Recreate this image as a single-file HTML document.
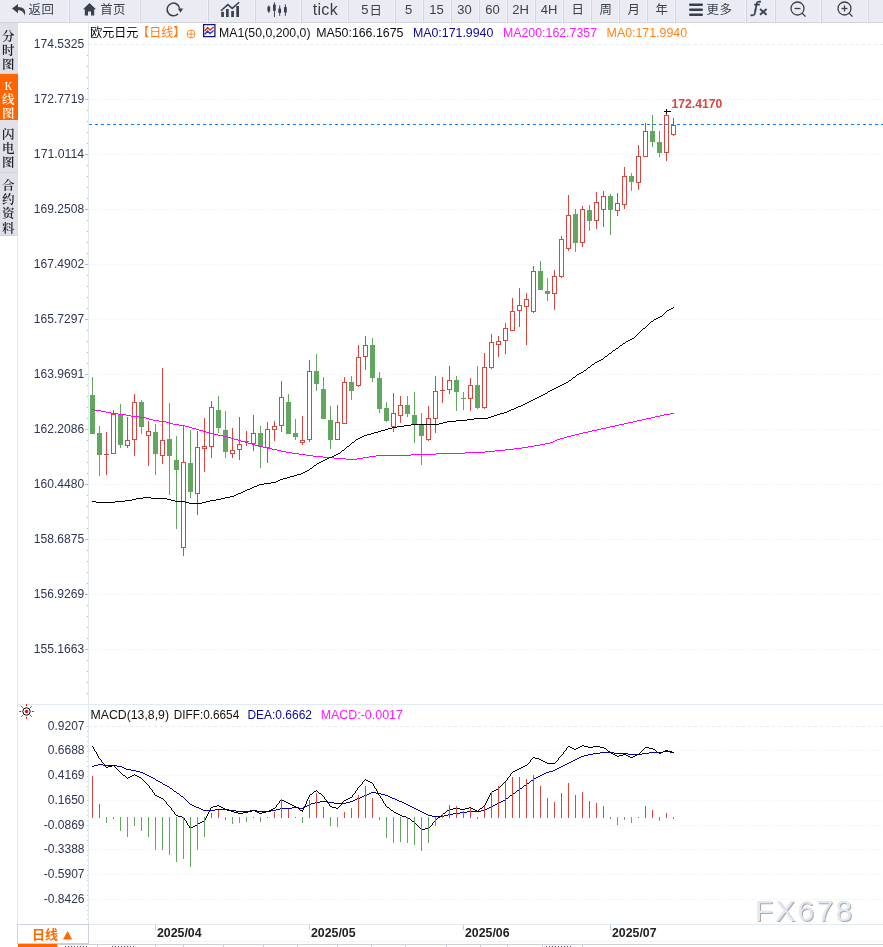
<!DOCTYPE html>
<html lang="zh"><head><meta charset="utf-8"><title>欧元日元 日线</title><style>
html,body{margin:0;padding:0;background:#fff}
body{width:883px;height:947px;position:relative;overflow:hidden;font-family:"Liberation Sans","Noto Sans CJK SC",sans-serif}
#tb{position:absolute;left:0;top:0;width:883px;height:22px;background:#eaebf3;border-bottom:1px solid #d0d2dd;color:#39414d}
#tb .sep{position:absolute;top:0;width:1px;height:23px;background:#f3f3f9;box-shadow:1px 0 0 #d3d4df}
#tb .bt{position:absolute;top:0;height:19px;line-height:19.5px;text-align:center;white-space:nowrap;box-sizing:border-box;padding-left:1.2px}
#tb .lb{position:absolute;top:1px;height:19px;line-height:19px;white-space:nowrap}
#tb .ic{position:absolute}
#side{position:absolute;left:0;top:0;width:18px}
#side .tab{position:absolute;left:0;width:18px;background:#dfe0ea;color:#1c1c1c;font:600 12.5px/14.2px "Noto Serif CJK SC","Liberation Serif",serif;text-align:center;box-sizing:border-box;padding:6px 1.5px 0 0;border-bottom:1px solid #d0d2dc}
#side .tab.on{background:#ff6600;color:#fff;padding-top:4px;border-bottom:0}
#dl{position:absolute;left:17px;top:924px;width:70px;height:18px;border:1px solid #c9d2de;box-sizing:content-box;background:#fff;color:#ff6a00;font-weight:bold;font-size:13px;line-height:19px;text-indent:14px;white-space:nowrap}
#dl b{font-size:10px;position:relative;top:-1px;left:1px}
#b1{position:absolute;left:18px;top:944px;width:39px;height:3px;background:#ff6600}
#b0{position:absolute;left:18px;top:944px;width:865px;height:1px;background:#cbcfd8}
.bs{position:absolute;top:945px;width:1px;height:2px;background:#c9cdd6}
.bt2{position:absolute;top:946px;height:1px;background:repeating-linear-gradient(90deg,#555 0 1px,#fff 1px 3px)}
</style></head><body>
<svg width="883" height="947" viewBox="0 0 883 947" style="position:absolute;left:0;top:0" font-family="'Liberation Sans', 'Noto Sans CJK SC', sans-serif">
<g shape-rendering="crispEdges" stroke="#e4ecf2" stroke-width="1" fill="none">
<line x1="88" x2="883" y1="44.5" y2="44.5" stroke-dasharray="3 3"/>
<line x1="89" x2="883" y1="99.5" y2="99.5" stroke-dasharray="1 2"/>
<line x1="89" x2="883" y1="154.5" y2="154.5" stroke-dasharray="1 2"/>
<line x1="89" x2="883" y1="209.5" y2="209.5" stroke-dasharray="1 2"/>
<line x1="89" x2="883" y1="264.5" y2="264.5" stroke-dasharray="1 2"/>
<line x1="89" x2="883" y1="319.5" y2="319.5" stroke-dasharray="1 2"/>
<line x1="89" x2="883" y1="374.5" y2="374.5" stroke-dasharray="1 2"/>
<line x1="89" x2="883" y1="429.5" y2="429.5" stroke-dasharray="1 2"/>
<line x1="89" x2="883" y1="484.5" y2="484.5" stroke-dasharray="1 2"/>
<line x1="89" x2="883" y1="539.5" y2="539.5" stroke-dasharray="1 2"/>
<line x1="89" x2="883" y1="594.5" y2="594.5" stroke-dasharray="1 2"/>
<line x1="89" x2="883" y1="649.5" y2="649.5" stroke-dasharray="1 2"/>
<line x1="88" x2="883" y1="726.5" y2="726.5" stroke-dasharray="3 3"/>
<line x1="89" x2="883" y1="750.5" y2="750.5" stroke-dasharray="1 2"/>
<line x1="89" x2="883" y1="775.5" y2="775.5" stroke-dasharray="1 2"/>
<line x1="89" x2="883" y1="800.5" y2="800.5" stroke-dasharray="1 2"/>
<line x1="89" x2="883" y1="825.5" y2="825.5" stroke-dasharray="1 2"/>
<line x1="89" x2="883" y1="849.5" y2="849.5" stroke-dasharray="1 2"/>
<line x1="89" x2="883" y1="874.5" y2="874.5" stroke-dasharray="1 2"/>
<line x1="89" x2="883" y1="899.5" y2="899.5" stroke-dasharray="1 2"/>
</g>
<g shape-rendering="crispEdges" stroke="#e1e9f1" stroke-width="1" fill="none">
<line x1="88.5" x2="88.5" y1="22" y2="925"/>
<line x1="17.5" x2="17.5" y1="237" y2="944"/>
<line x1="18" x2="883" y1="704.5" y2="704.5"/>
<line x1="18" x2="883" y1="924.5" y2="924.5"/>
<line x1="88" x2="883" y1="941.5" y2="941.5" stroke="#f1f4f8"/>
<line x1="87" x2="88" y1="55.5" y2="55.5" stroke="#aab2c0"/>
<line x1="87" x2="88" y1="66.5" y2="66.5" stroke="#aab2c0"/>
<line x1="87" x2="88" y1="77.5" y2="77.5" stroke="#aab2c0"/>
<line x1="87" x2="88" y1="88.5" y2="88.5" stroke="#aab2c0"/>
<line x1="85" x2="88" y1="99.5" y2="99.5" stroke="#b4bcc9"/>
<line x1="87" x2="88" y1="110.5" y2="110.5" stroke="#aab2c0"/>
<line x1="87" x2="88" y1="121.5" y2="121.5" stroke="#aab2c0"/>
<line x1="87" x2="88" y1="132.5" y2="132.5" stroke="#aab2c0"/>
<line x1="87" x2="88" y1="143.5" y2="143.5" stroke="#aab2c0"/>
<line x1="85" x2="88" y1="154.5" y2="154.5" stroke="#b4bcc9"/>
<line x1="87" x2="88" y1="165.5" y2="165.5" stroke="#aab2c0"/>
<line x1="87" x2="88" y1="176.5" y2="176.5" stroke="#aab2c0"/>
<line x1="87" x2="88" y1="187.5" y2="187.5" stroke="#aab2c0"/>
<line x1="87" x2="88" y1="198.5" y2="198.5" stroke="#aab2c0"/>
<line x1="85" x2="88" y1="209.5" y2="209.5" stroke="#b4bcc9"/>
<line x1="87" x2="88" y1="220.5" y2="220.5" stroke="#aab2c0"/>
<line x1="87" x2="88" y1="231.5" y2="231.5" stroke="#aab2c0"/>
<line x1="87" x2="88" y1="242.5" y2="242.5" stroke="#aab2c0"/>
<line x1="87" x2="88" y1="253.5" y2="253.5" stroke="#aab2c0"/>
<line x1="85" x2="88" y1="264.5" y2="264.5" stroke="#b4bcc9"/>
<line x1="87" x2="88" y1="275.5" y2="275.5" stroke="#aab2c0"/>
<line x1="87" x2="88" y1="286.5" y2="286.5" stroke="#aab2c0"/>
<line x1="87" x2="88" y1="297.5" y2="297.5" stroke="#aab2c0"/>
<line x1="87" x2="88" y1="308.5" y2="308.5" stroke="#aab2c0"/>
<line x1="85" x2="88" y1="319.5" y2="319.5" stroke="#b4bcc9"/>
<line x1="87" x2="88" y1="330.5" y2="330.5" stroke="#aab2c0"/>
<line x1="87" x2="88" y1="341.5" y2="341.5" stroke="#aab2c0"/>
<line x1="87" x2="88" y1="352.5" y2="352.5" stroke="#aab2c0"/>
<line x1="87" x2="88" y1="363.5" y2="363.5" stroke="#aab2c0"/>
<line x1="85" x2="88" y1="374.5" y2="374.5" stroke="#b4bcc9"/>
<line x1="87" x2="88" y1="385.5" y2="385.5" stroke="#aab2c0"/>
<line x1="87" x2="88" y1="396.5" y2="396.5" stroke="#aab2c0"/>
<line x1="87" x2="88" y1="407.5" y2="407.5" stroke="#aab2c0"/>
<line x1="87" x2="88" y1="418.5" y2="418.5" stroke="#aab2c0"/>
<line x1="85" x2="88" y1="429.5" y2="429.5" stroke="#b4bcc9"/>
<line x1="87" x2="88" y1="440.5" y2="440.5" stroke="#aab2c0"/>
<line x1="87" x2="88" y1="451.5" y2="451.5" stroke="#aab2c0"/>
<line x1="87" x2="88" y1="462.5" y2="462.5" stroke="#aab2c0"/>
<line x1="87" x2="88" y1="473.5" y2="473.5" stroke="#aab2c0"/>
<line x1="85" x2="88" y1="484.5" y2="484.5" stroke="#b4bcc9"/>
<line x1="87" x2="88" y1="495.5" y2="495.5" stroke="#aab2c0"/>
<line x1="87" x2="88" y1="506.5" y2="506.5" stroke="#aab2c0"/>
<line x1="87" x2="88" y1="517.5" y2="517.5" stroke="#aab2c0"/>
<line x1="87" x2="88" y1="528.5" y2="528.5" stroke="#aab2c0"/>
<line x1="85" x2="88" y1="539.5" y2="539.5" stroke="#b4bcc9"/>
<line x1="87" x2="88" y1="550.5" y2="550.5" stroke="#aab2c0"/>
<line x1="87" x2="88" y1="561.5" y2="561.5" stroke="#aab2c0"/>
<line x1="87" x2="88" y1="572.5" y2="572.5" stroke="#aab2c0"/>
<line x1="87" x2="88" y1="583.5" y2="583.5" stroke="#aab2c0"/>
<line x1="85" x2="88" y1="594.5" y2="594.5" stroke="#b4bcc9"/>
<line x1="87" x2="88" y1="605.5" y2="605.5" stroke="#aab2c0"/>
<line x1="87" x2="88" y1="616.5" y2="616.5" stroke="#aab2c0"/>
<line x1="87" x2="88" y1="627.5" y2="627.5" stroke="#aab2c0"/>
<line x1="87" x2="88" y1="638.5" y2="638.5" stroke="#aab2c0"/>
<line x1="85" x2="88" y1="649.5" y2="649.5" stroke="#b4bcc9"/>
<line x1="87" x2="88" y1="660.5" y2="660.5" stroke="#aab2c0"/>
<line x1="87" x2="88" y1="671.5" y2="671.5" stroke="#aab2c0"/>
<line x1="87" x2="88" y1="682.5" y2="682.5" stroke="#aab2c0"/>
<line x1="87" x2="88" y1="693.5" y2="693.5" stroke="#aab2c0"/>
<line x1="87" x2="88" y1="726.5" y2="726.5" stroke="#c5cfdb"/>
<line x1="87" x2="88" y1="731.5" y2="731.5" stroke="#c5cfdb"/>
<line x1="87" x2="88" y1="736.5" y2="736.5" stroke="#c5cfdb"/>
<line x1="87" x2="88" y1="741.5" y2="741.5" stroke="#c5cfdb"/>
<line x1="87" x2="88" y1="746.5" y2="746.5" stroke="#c5cfdb"/>
<line x1="87" x2="88" y1="751.5" y2="751.5" stroke="#c5cfdb"/>
<line x1="87" x2="88" y1="756.5" y2="756.5" stroke="#c5cfdb"/>
<line x1="87" x2="88" y1="761.5" y2="761.5" stroke="#c5cfdb"/>
<line x1="87" x2="88" y1="766.5" y2="766.5" stroke="#c5cfdb"/>
<line x1="87" x2="88" y1="771.5" y2="771.5" stroke="#c5cfdb"/>
<line x1="87" x2="88" y1="776.5" y2="776.5" stroke="#c5cfdb"/>
<line x1="87" x2="88" y1="781.5" y2="781.5" stroke="#c5cfdb"/>
<line x1="87" x2="88" y1="786.5" y2="786.5" stroke="#c5cfdb"/>
<line x1="87" x2="88" y1="790.5" y2="790.5" stroke="#c5cfdb"/>
<line x1="87" x2="88" y1="795.5" y2="795.5" stroke="#c5cfdb"/>
<line x1="87" x2="88" y1="800.5" y2="800.5" stroke="#c5cfdb"/>
<line x1="87" x2="88" y1="805.5" y2="805.5" stroke="#c5cfdb"/>
<line x1="87" x2="88" y1="810.5" y2="810.5" stroke="#c5cfdb"/>
<line x1="87" x2="88" y1="815.5" y2="815.5" stroke="#c5cfdb"/>
<line x1="87" x2="88" y1="820.5" y2="820.5" stroke="#c5cfdb"/>
<line x1="87" x2="88" y1="825.5" y2="825.5" stroke="#c5cfdb"/>
<line x1="87" x2="88" y1="830.5" y2="830.5" stroke="#c5cfdb"/>
<line x1="87" x2="88" y1="835.5" y2="835.5" stroke="#c5cfdb"/>
<line x1="87" x2="88" y1="840.5" y2="840.5" stroke="#c5cfdb"/>
<line x1="87" x2="88" y1="845.5" y2="845.5" stroke="#c5cfdb"/>
<line x1="87" x2="88" y1="850.5" y2="850.5" stroke="#c5cfdb"/>
<line x1="87" x2="88" y1="855.5" y2="855.5" stroke="#c5cfdb"/>
<line x1="87" x2="88" y1="860.5" y2="860.5" stroke="#c5cfdb"/>
<line x1="87" x2="88" y1="865.5" y2="865.5" stroke="#c5cfdb"/>
<line x1="87" x2="88" y1="870.5" y2="870.5" stroke="#c5cfdb"/>
<line x1="87" x2="88" y1="875.5" y2="875.5" stroke="#c5cfdb"/>
<line x1="87" x2="88" y1="880.5" y2="880.5" stroke="#c5cfdb"/>
<line x1="87" x2="88" y1="885.5" y2="885.5" stroke="#c5cfdb"/>
<line x1="87" x2="88" y1="890.5" y2="890.5" stroke="#c5cfdb"/>
<line x1="87" x2="88" y1="895.5" y2="895.5" stroke="#c5cfdb"/>
<line x1="87" x2="88" y1="900.5" y2="900.5" stroke="#c5cfdb"/>
<line x1="87" x2="88" y1="905.5" y2="905.5" stroke="#c5cfdb"/>
<line x1="87" x2="88" y1="910.5" y2="910.5" stroke="#c5cfdb"/>
<line x1="87" x2="88" y1="914.5" y2="914.5" stroke="#c5cfdb"/>
<line x1="87" x2="88" y1="919.5" y2="919.5" stroke="#c5cfdb"/>
<line x1="155.5" x2="155.5" y1="925" y2="930" stroke="#c5cfdb"/>
<line x1="309.5" x2="309.5" y1="925" y2="930" stroke="#c5cfdb"/>
<line x1="463.5" x2="463.5" y1="925" y2="930" stroke="#c5cfdb"/>
<line x1="610.5" x2="610.5" y1="925" y2="930" stroke="#c5cfdb"/>
</g>
<g shape-rendering="crispEdges" stroke-width="1">
<line x1="92.5" x2="92.5" y1="377" y2="434" stroke="#62a75f"/>
<rect x="90.0" y="395" width="5" height="39" fill="#62a75f" stroke="none"/>
<line x1="99.5" x2="99.5" y1="426" y2="476" stroke="#62a75f"/>
<rect x="97.0" y="433" width="5" height="22" fill="#62a75f" stroke="none"/>
<line x1="106.5" x2="106.5" y1="432" y2="475" stroke="#d7473f"/>
<line x1="104.0" x2="109.0" y1="454.5" y2="454.5" stroke="#d7473f"/>
<line x1="113.5" x2="113.5" y1="410" y2="414" stroke="#d7473f"/>
<rect x="111.5" y="414.5" width="4" height="39" fill="#fff" stroke="#d7473f"/>
<line x1="120.5" x2="120.5" y1="404" y2="448" stroke="#62a75f"/>
<rect x="118.0" y="414" width="5" height="31" fill="#62a75f" stroke="none"/>
<line x1="127.5" x2="127.5" y1="417" y2="440" stroke="#d7473f"/>
<line x1="127.5" x2="127.5" y1="446" y2="448" stroke="#d7473f"/>
<rect x="125.5" y="440.5" width="4" height="5" fill="#fff" stroke="#d7473f"/>
<line x1="134.5" x2="134.5" y1="394" y2="402" stroke="#d7473f"/>
<line x1="134.5" x2="134.5" y1="440" y2="456" stroke="#d7473f"/>
<rect x="132.5" y="402.5" width="4" height="37" fill="#fff" stroke="#d7473f"/>
<line x1="141.5" x2="141.5" y1="400" y2="434" stroke="#62a75f"/>
<rect x="139.0" y="402" width="5" height="25" fill="#62a75f" stroke="none"/>
<line x1="148.5" x2="148.5" y1="421" y2="431" stroke="#d7473f"/>
<line x1="148.5" x2="148.5" y1="436" y2="466" stroke="#d7473f"/>
<rect x="146.5" y="431.5" width="4" height="4" fill="#fff" stroke="#d7473f"/>
<line x1="155.5" x2="155.5" y1="424" y2="475" stroke="#62a75f"/>
<rect x="153.0" y="432" width="5" height="22" fill="#62a75f" stroke="none"/>
<line x1="162.5" x2="162.5" y1="368" y2="440" stroke="#d7473f"/>
<line x1="162.5" x2="162.5" y1="456" y2="464" stroke="#d7473f"/>
<rect x="160.5" y="440.5" width="4" height="15" fill="#fff" stroke="#d7473f"/>
<line x1="169.5" x2="169.5" y1="403" y2="495" stroke="#62a75f"/>
<rect x="167.0" y="439" width="5" height="17" fill="#62a75f" stroke="none"/>
<line x1="176.5" x2="176.5" y1="436" y2="529" stroke="#62a75f"/>
<rect x="174.0" y="460" width="5" height="10" fill="#62a75f" stroke="none"/>
<line x1="183.5" x2="183.5" y1="426" y2="462" stroke="#d7473f"/>
<line x1="183.5" x2="183.5" y1="548" y2="556" stroke="#d7473f"/>
<rect x="181.5" y="462.5" width="4" height="85" fill="#fff" stroke="#d7473f"/>
<line x1="190.5" x2="190.5" y1="430" y2="498" stroke="#62a75f"/>
<rect x="188.0" y="463" width="5" height="29" fill="#62a75f" stroke="none"/>
<line x1="197.5" x2="197.5" y1="431" y2="447" stroke="#d7473f"/>
<line x1="197.5" x2="197.5" y1="494" y2="515" stroke="#d7473f"/>
<rect x="195.5" y="447.5" width="4" height="46" fill="#fff" stroke="#d7473f"/>
<line x1="204.5" x2="204.5" y1="418" y2="446" stroke="#d7473f"/>
<line x1="204.5" x2="204.5" y1="449" y2="472" stroke="#d7473f"/>
<rect x="202.5" y="446.5" width="4" height="2" fill="#fff" stroke="#d7473f"/>
<line x1="211.5" x2="211.5" y1="401" y2="407" stroke="#d7473f"/>
<line x1="211.5" x2="211.5" y1="447" y2="458" stroke="#d7473f"/>
<rect x="209.5" y="407.5" width="4" height="39" fill="#fff" stroke="#d7473f"/>
<line x1="218.5" x2="218.5" y1="396" y2="433" stroke="#62a75f"/>
<rect x="216.0" y="410" width="5" height="18" fill="#62a75f" stroke="none"/>
<line x1="225.5" x2="225.5" y1="411" y2="458" stroke="#62a75f"/>
<rect x="223.0" y="430" width="5" height="22" fill="#62a75f" stroke="none"/>
<line x1="232.5" x2="232.5" y1="428" y2="450" stroke="#d7473f"/>
<line x1="232.5" x2="232.5" y1="454" y2="458" stroke="#d7473f"/>
<rect x="230.5" y="450.5" width="4" height="3" fill="#fff" stroke="#d7473f"/>
<line x1="239.5" x2="239.5" y1="417" y2="444" stroke="#d7473f"/>
<line x1="239.5" x2="239.5" y1="450" y2="460" stroke="#d7473f"/>
<rect x="237.5" y="444.5" width="4" height="5" fill="#fff" stroke="#d7473f"/>
<line x1="246.5" x2="246.5" y1="431" y2="446" stroke="#d7473f"/>
<line x1="244.0" x2="249.0" y1="441.5" y2="441.5" stroke="#d7473f"/>
<line x1="253.5" x2="253.5" y1="415" y2="433" stroke="#d7473f"/>
<line x1="253.5" x2="253.5" y1="444" y2="451" stroke="#d7473f"/>
<rect x="251.5" y="433.5" width="4" height="10" fill="#fff" stroke="#d7473f"/>
<line x1="260.5" x2="260.5" y1="426" y2="468" stroke="#62a75f"/>
<rect x="258.0" y="433" width="5" height="14" fill="#62a75f" stroke="none"/>
<line x1="267.5" x2="267.5" y1="422" y2="429" stroke="#d7473f"/>
<line x1="267.5" x2="267.5" y1="448" y2="463" stroke="#d7473f"/>
<rect x="265.5" y="429.5" width="4" height="18" fill="#fff" stroke="#d7473f"/>
<line x1="274.5" x2="274.5" y1="421" y2="426" stroke="#d7473f"/>
<line x1="274.5" x2="274.5" y1="430" y2="441" stroke="#d7473f"/>
<rect x="272.5" y="426.5" width="4" height="3" fill="#fff" stroke="#d7473f"/>
<line x1="281.5" x2="281.5" y1="381" y2="397" stroke="#d7473f"/>
<line x1="281.5" x2="281.5" y1="426" y2="432" stroke="#d7473f"/>
<rect x="279.5" y="397.5" width="4" height="28" fill="#fff" stroke="#d7473f"/>
<line x1="288.5" x2="288.5" y1="394" y2="434" stroke="#62a75f"/>
<rect x="286.0" y="402" width="5" height="32" fill="#62a75f" stroke="none"/>
<line x1="295.5" x2="295.5" y1="419" y2="440" stroke="#62a75f"/>
<rect x="293.0" y="433" width="5" height="4" fill="#62a75f" stroke="none"/>
<line x1="302.5" x2="302.5" y1="416" y2="440" stroke="#d7473f"/>
<line x1="302.5" x2="302.5" y1="443" y2="445" stroke="#d7473f"/>
<rect x="300.5" y="440.5" width="4" height="2" fill="#fff" stroke="#d7473f"/>
<line x1="309.5" x2="309.5" y1="360" y2="371" stroke="#d7473f"/>
<line x1="309.5" x2="309.5" y1="440" y2="442" stroke="#d7473f"/>
<rect x="307.5" y="371.5" width="4" height="68" fill="#fff" stroke="#d7473f"/>
<line x1="316.5" x2="316.5" y1="354" y2="391" stroke="#62a75f"/>
<rect x="314.0" y="371" width="5" height="13" fill="#62a75f" stroke="none"/>
<line x1="323.5" x2="323.5" y1="377" y2="419" stroke="#62a75f"/>
<rect x="321.0" y="389" width="5" height="30" fill="#62a75f" stroke="none"/>
<line x1="330.5" x2="330.5" y1="406" y2="449" stroke="#62a75f"/>
<rect x="328.0" y="420" width="5" height="20" fill="#62a75f" stroke="none"/>
<line x1="337.5" x2="337.5" y1="405" y2="422" stroke="#d7473f"/>
<rect x="335.5" y="422.5" width="4" height="17" fill="#fff" stroke="#d7473f"/>
<line x1="344.5" x2="344.5" y1="377" y2="382" stroke="#d7473f"/>
<rect x="342.5" y="382.5" width="4" height="41" fill="#fff" stroke="#d7473f"/>
<line x1="351.5" x2="351.5" y1="376" y2="400" stroke="#62a75f"/>
<rect x="349.0" y="382" width="5" height="9" fill="#62a75f" stroke="none"/>
<line x1="358.5" x2="358.5" y1="345" y2="357" stroke="#d7473f"/>
<line x1="358.5" x2="358.5" y1="386" y2="387" stroke="#d7473f"/>
<rect x="356.5" y="357.5" width="4" height="28" fill="#fff" stroke="#d7473f"/>
<line x1="365.5" x2="365.5" y1="336" y2="345" stroke="#d7473f"/>
<line x1="365.5" x2="365.5" y1="357" y2="370" stroke="#d7473f"/>
<rect x="363.5" y="345.5" width="4" height="11" fill="#fff" stroke="#d7473f"/>
<line x1="372.5" x2="372.5" y1="338" y2="382" stroke="#62a75f"/>
<rect x="370.0" y="345" width="5" height="33" fill="#62a75f" stroke="none"/>
<line x1="379.5" x2="379.5" y1="372" y2="413" stroke="#62a75f"/>
<rect x="377.0" y="378" width="5" height="31" fill="#62a75f" stroke="none"/>
<line x1="386.5" x2="386.5" y1="402" y2="422" stroke="#62a75f"/>
<rect x="384.0" y="408" width="5" height="13" fill="#62a75f" stroke="none"/>
<line x1="393.5" x2="393.5" y1="393" y2="413" stroke="#d7473f"/>
<line x1="393.5" x2="393.5" y1="427" y2="432" stroke="#d7473f"/>
<rect x="391.5" y="413.5" width="4" height="13" fill="#fff" stroke="#d7473f"/>
<line x1="400.5" x2="400.5" y1="396" y2="405" stroke="#d7473f"/>
<line x1="400.5" x2="400.5" y1="416" y2="423" stroke="#d7473f"/>
<rect x="398.5" y="405.5" width="4" height="10" fill="#fff" stroke="#d7473f"/>
<line x1="407.5" x2="407.5" y1="396" y2="417" stroke="#62a75f"/>
<rect x="405.0" y="405" width="5" height="9" fill="#62a75f" stroke="none"/>
<line x1="414.5" x2="414.5" y1="392" y2="443" stroke="#62a75f"/>
<rect x="412.0" y="415" width="5" height="9" fill="#62a75f" stroke="none"/>
<line x1="421.5" x2="421.5" y1="413" y2="465" stroke="#62a75f"/>
<rect x="419.0" y="424" width="5" height="12" fill="#62a75f" stroke="none"/>
<line x1="428.5" x2="428.5" y1="406" y2="418" stroke="#d7473f"/>
<line x1="428.5" x2="428.5" y1="440" y2="441" stroke="#d7473f"/>
<rect x="426.5" y="418.5" width="4" height="21" fill="#fff" stroke="#d7473f"/>
<line x1="435.5" x2="435.5" y1="376" y2="391" stroke="#d7473f"/>
<line x1="435.5" x2="435.5" y1="419" y2="433" stroke="#d7473f"/>
<rect x="433.5" y="391.5" width="4" height="27" fill="#fff" stroke="#d7473f"/>
<line x1="442.5" x2="442.5" y1="377" y2="403" stroke="#d7473f"/>
<line x1="440.0" x2="445.0" y1="390.5" y2="390.5" stroke="#d7473f"/>
<line x1="449.5" x2="449.5" y1="366" y2="380" stroke="#d7473f"/>
<line x1="449.5" x2="449.5" y1="390" y2="394" stroke="#d7473f"/>
<rect x="447.5" y="380.5" width="4" height="9" fill="#fff" stroke="#d7473f"/>
<line x1="456.5" x2="456.5" y1="376" y2="411" stroke="#62a75f"/>
<rect x="454.0" y="380" width="5" height="12" fill="#62a75f" stroke="none"/>
<line x1="463.5" x2="463.5" y1="392" y2="410" stroke="#62a75f"/>
<line x1="461.0" x2="466.0" y1="398.5" y2="398.5" stroke="#62a75f"/>
<line x1="470.5" x2="470.5" y1="378" y2="385" stroke="#d7473f"/>
<line x1="470.5" x2="470.5" y1="399" y2="411" stroke="#d7473f"/>
<rect x="468.5" y="385.5" width="4" height="13" fill="#fff" stroke="#d7473f"/>
<line x1="477.5" x2="477.5" y1="366" y2="409" stroke="#62a75f"/>
<rect x="475.0" y="385" width="5" height="23" fill="#62a75f" stroke="none"/>
<line x1="484.5" x2="484.5" y1="353" y2="367" stroke="#d7473f"/>
<line x1="484.5" x2="484.5" y1="408" y2="409" stroke="#d7473f"/>
<rect x="482.5" y="367.5" width="4" height="40" fill="#fff" stroke="#d7473f"/>
<line x1="491.5" x2="491.5" y1="334" y2="342" stroke="#d7473f"/>
<line x1="491.5" x2="491.5" y1="368" y2="369" stroke="#d7473f"/>
<rect x="489.5" y="342.5" width="4" height="25" fill="#fff" stroke="#d7473f"/>
<line x1="498.5" x2="498.5" y1="336" y2="341" stroke="#d7473f"/>
<line x1="498.5" x2="498.5" y1="345" y2="357" stroke="#d7473f"/>
<rect x="496.5" y="341.5" width="4" height="3" fill="#fff" stroke="#d7473f"/>
<line x1="505.5" x2="505.5" y1="323" y2="328" stroke="#d7473f"/>
<line x1="505.5" x2="505.5" y1="341" y2="354" stroke="#d7473f"/>
<rect x="503.5" y="328.5" width="4" height="12" fill="#fff" stroke="#d7473f"/>
<line x1="512.5" x2="512.5" y1="298" y2="311" stroke="#d7473f"/>
<rect x="510.5" y="311.5" width="4" height="19" fill="#fff" stroke="#d7473f"/>
<line x1="519.5" x2="519.5" y1="288" y2="305" stroke="#d7473f"/>
<line x1="519.5" x2="519.5" y1="311" y2="327" stroke="#d7473f"/>
<rect x="517.5" y="305.5" width="4" height="5" fill="#fff" stroke="#d7473f"/>
<line x1="526.5" x2="526.5" y1="293" y2="299" stroke="#d7473f"/>
<line x1="526.5" x2="526.5" y1="307" y2="345" stroke="#d7473f"/>
<rect x="524.5" y="299.5" width="4" height="7" fill="#fff" stroke="#d7473f"/>
<line x1="533.5" x2="533.5" y1="266" y2="271" stroke="#d7473f"/>
<line x1="533.5" x2="533.5" y1="312" y2="313" stroke="#d7473f"/>
<rect x="531.5" y="271.5" width="4" height="40" fill="#fff" stroke="#d7473f"/>
<line x1="540.5" x2="540.5" y1="261" y2="290" stroke="#62a75f"/>
<rect x="538.0" y="271" width="5" height="19" fill="#62a75f" stroke="none"/>
<line x1="547.5" x2="547.5" y1="278" y2="301" stroke="#62a75f"/>
<rect x="545.0" y="291" width="5" height="3" fill="#62a75f" stroke="none"/>
<line x1="554.5" x2="554.5" y1="270" y2="276" stroke="#d7473f"/>
<line x1="554.5" x2="554.5" y1="294" y2="310" stroke="#d7473f"/>
<rect x="552.5" y="276.5" width="4" height="17" fill="#fff" stroke="#d7473f"/>
<line x1="561.5" x2="561.5" y1="236" y2="239" stroke="#d7473f"/>
<line x1="561.5" x2="561.5" y1="277" y2="278" stroke="#d7473f"/>
<rect x="559.5" y="239.5" width="4" height="37" fill="#fff" stroke="#d7473f"/>
<line x1="568.5" x2="568.5" y1="195" y2="215" stroke="#d7473f"/>
<line x1="568.5" x2="568.5" y1="249" y2="251" stroke="#d7473f"/>
<rect x="566.5" y="215.5" width="4" height="33" fill="#fff" stroke="#d7473f"/>
<line x1="575.5" x2="575.5" y1="209" y2="252" stroke="#62a75f"/>
<rect x="573.0" y="214" width="5" height="29" fill="#62a75f" stroke="none"/>
<line x1="582.5" x2="582.5" y1="206" y2="209" stroke="#d7473f"/>
<line x1="582.5" x2="582.5" y1="243" y2="247" stroke="#d7473f"/>
<rect x="580.5" y="209.5" width="4" height="33" fill="#fff" stroke="#d7473f"/>
<line x1="589.5" x2="589.5" y1="205" y2="231" stroke="#62a75f"/>
<rect x="587.0" y="210" width="5" height="11" fill="#62a75f" stroke="none"/>
<line x1="596.5" x2="596.5" y1="192" y2="202" stroke="#d7473f"/>
<line x1="596.5" x2="596.5" y1="221" y2="229" stroke="#d7473f"/>
<rect x="594.5" y="202.5" width="4" height="18" fill="#fff" stroke="#d7473f"/>
<line x1="603.5" x2="603.5" y1="191" y2="196" stroke="#d7473f"/>
<line x1="603.5" x2="603.5" y1="210" y2="227" stroke="#d7473f"/>
<rect x="601.5" y="196.5" width="4" height="13" fill="#fff" stroke="#d7473f"/>
<line x1="610.5" x2="610.5" y1="194" y2="235" stroke="#62a75f"/>
<rect x="608.0" y="196" width="5" height="14" fill="#62a75f" stroke="none"/>
<line x1="617.5" x2="617.5" y1="193" y2="203" stroke="#d7473f"/>
<line x1="617.5" x2="617.5" y1="211" y2="216" stroke="#d7473f"/>
<rect x="615.5" y="203.5" width="4" height="7" fill="#fff" stroke="#d7473f"/>
<line x1="624.5" x2="624.5" y1="167" y2="176" stroke="#d7473f"/>
<line x1="624.5" x2="624.5" y1="205" y2="209" stroke="#d7473f"/>
<rect x="622.5" y="176.5" width="4" height="28" fill="#fff" stroke="#d7473f"/>
<line x1="631.5" x2="631.5" y1="173" y2="191" stroke="#62a75f"/>
<rect x="629.0" y="176" width="5" height="6" fill="#62a75f" stroke="none"/>
<line x1="638.5" x2="638.5" y1="145" y2="156" stroke="#d7473f"/>
<line x1="638.5" x2="638.5" y1="183" y2="190" stroke="#d7473f"/>
<rect x="636.5" y="156.5" width="4" height="26" fill="#fff" stroke="#d7473f"/>
<line x1="645.5" x2="645.5" y1="123" y2="131" stroke="#d7473f"/>
<rect x="643.5" y="131.5" width="4" height="25" fill="#fff" stroke="#d7473f"/>
<line x1="652.5" x2="652.5" y1="115" y2="147" stroke="#62a75f"/>
<rect x="650.0" y="131" width="5" height="11" fill="#62a75f" stroke="none"/>
<line x1="659.5" x2="659.5" y1="131" y2="157" stroke="#62a75f"/>
<rect x="657.0" y="142" width="5" height="11" fill="#62a75f" stroke="none"/>
<line x1="666.5" x2="666.5" y1="112" y2="115" stroke="#d7473f"/>
<line x1="666.5" x2="666.5" y1="153" y2="161" stroke="#d7473f"/>
<rect x="664.5" y="115.5" width="4" height="37" fill="#fff" stroke="#d7473f"/>
<line x1="673.5" x2="673.5" y1="118" y2="125" stroke="#d7473f"/>
<line x1="673.5" x2="673.5" y1="135" y2="136" stroke="#d7473f"/>
<rect x="671.5" y="125.5" width="4" height="9" fill="#fff" stroke="#d7473f"/>
</g>
<path d="M92 409h3v1h-3zM95 410h6v1h-6zM101 411h5v1h-5zM106 412h5v1h-5zM111 413h7v1h-7zM670 413h4v1h-4zM118 414h8v1h-8zM664 414h6v1h-6zM126 415h5v1h-5zM660 415h4v1h-4zM131 416h8v1h-8zM655 416h5v1h-5zM139 417h7v1h-7zM651 417h4v1h-4zM146 418h3v1h-3zM646 418h5v1h-5zM149 419h4v1h-4zM642 419h4v1h-4zM153 420h6v1h-6zM637 420h5v1h-5zM159 421h7v1h-7zM633 421h4v1h-4zM166 422h3v1h-3zM628 422h5v1h-5zM169 423h4v1h-4zM624 423h4v1h-4zM173 424h6v1h-6zM619 424h5v1h-5zM179 425h6v1h-6zM615 425h4v1h-4zM185 426h4v1h-4zM610 426h5v1h-5zM189 427h3v1h-3zM606 427h4v1h-4zM192 428h4v1h-4zM601 428h5v1h-5zM196 429h3v1h-3zM597 429h4v1h-4zM199 430h4v1h-4zM592 430h5v1h-5zM203 431h3v1h-3zM588 431h4v1h-4zM206 432h4v1h-4zM583 432h5v1h-5zM210 433h4v1h-4zM579 433h4v1h-4zM214 434h4v1h-4zM575 434h4v1h-4zM218 435h5v1h-5zM571 435h4v1h-4zM223 436h4v1h-4zM567 436h4v1h-4zM227 437h4v1h-4zM564 437h3v1h-3zM231 438h3v1h-3zM560 438h4v1h-4zM234 439h4v1h-4zM557 439h3v1h-3zM238 440h3v1h-3zM555 440h2v1h-2zM241 441h4v1h-4zM553 441h2v1h-2zM245 442h3v1h-3zM550 442h3v1h-3zM248 443h4v1h-4zM545 443h5v1h-5zM252 444h3v1h-3zM540 444h5v1h-5zM255 445h4v1h-4zM534 445h6v1h-6zM259 446h4v1h-4zM528 446h6v1h-6zM263 447h4v1h-4zM522 447h6v1h-6zM267 448h5v1h-5zM514 448h8v1h-8zM272 449h5v1h-5zM505 449h9v1h-9zM277 450h4v1h-4zM495 450h10v1h-10zM281 451h5v1h-5zM485 451h10v1h-10zM286 452h6v1h-6zM465 452h20v1h-20zM292 453h7v1h-7zM436 453h29v1h-29zM299 454h7v1h-7zM411 454h25v1h-25zM306 455h7v1h-7zM376 455h35v1h-35zM313 456h10v1h-10zM369 456h7v1h-7zM323 457h11v1h-11zM363 457h6v1h-6zM334 458h12v1h-12zM357 458h6v1h-6zM346 459h11v1h-11z" fill="#ff00ff" shape-rendering="crispEdges"/>
<path d="M673 307h1v1h-1zM671 308h2v1h-2zM669 309h2v1h-2zM667 310h2v1h-2zM666 311h1v1h-1zM665 312h1v1h-1zM664 313h1v1h-1zM663 314h1v1h-1zM662 315h1v1h-1zM660 316h2v1h-2zM658 317h2v1h-2zM656 318h2v1h-2zM654 319h2v1h-2zM653 320h1v1h-1zM651 321h2v1h-2zM650 322h1v1h-1zM649 323h1v1h-1zM648 324h1v1h-1zM647 325h1v1h-1zM646 326h1v1h-1zM645 327h1v1h-1zM643 328h2v1h-2zM642 329h1v1h-1zM641 330h1v1h-1zM640 331h1v1h-1zM639 332h1v1h-1zM638 333h1v1h-1zM637 334h1v1h-1zM636 335h1v1h-1zM635 336h1v1h-1zM634 337h1v1h-1zM632 338h2v1h-2zM630 339h2v1h-2zM628 340h2v1h-2zM626 341h2v1h-2zM625 342h1v1h-1zM623 343h2v1h-2zM622 344h1v1h-1zM620 345h2v1h-2zM619 346h1v1h-1zM618 347h1v1h-1zM616 348h2v1h-2zM615 349h1v1h-1zM613 350h2v1h-2zM612 351h1v1h-1zM611 352h1v1h-1zM609 353h2v1h-2zM608 354h1v1h-1zM607 355h1v1h-1zM605 356h2v1h-2zM604 357h1v1h-1zM603 358h1v1h-1zM601 359h2v1h-2zM599 360h2v1h-2zM597 361h2v1h-2zM595 362h2v1h-2zM594 363h1v1h-1zM592 364h2v1h-2zM591 365h1v1h-1zM590 366h1v1h-1zM588 367h2v1h-2zM587 368h1v1h-1zM586 369h1v1h-1zM584 370h2v1h-2zM583 371h1v1h-1zM581 372h2v1h-2zM579 373h2v1h-2zM577 374h2v1h-2zM576 375h1v1h-1zM575 376h1v1h-1zM573 377h2v1h-2zM572 378h1v1h-1zM571 379h1v1h-1zM569 380h2v1h-2zM568 381h1v1h-1zM566 382h2v1h-2zM564 383h2v1h-2zM562 384h2v1h-2zM560 385h2v1h-2zM558 386h2v1h-2zM556 387h2v1h-2zM554 388h2v1h-2zM552 389h2v1h-2zM550 390h2v1h-2zM548 391h2v1h-2zM547 392h1v1h-1zM545 393h2v1h-2zM543 394h2v1h-2zM541 395h2v1h-2zM539 396h2v1h-2zM537 397h2v1h-2zM535 398h2v1h-2zM533 399h2v1h-2zM531 400h2v1h-2zM529 401h2v1h-2zM527 402h2v1h-2zM525 403h2v1h-2zM523 404h2v1h-2zM521 405h2v1h-2zM518 406h3v1h-3zM516 407h2v1h-2zM514 408h2v1h-2zM511 409h3v1h-3zM509 410h2v1h-2zM507 411h2v1h-2zM504 412h3v1h-3zM500 413h4v1h-4zM497 414h3v1h-3zM494 415h3v1h-3zM491 416h3v1h-3zM488 417h3v1h-3zM474 418h14v1h-14zM467 419h7v1h-7zM456 420h11v1h-11zM447 421h9v1h-9zM443 422h4v1h-4zM439 423h4v1h-4zM411 424h28v1h-28zM404 425h7v1h-7zM397 426h7v1h-7zM392 427h5v1h-5zM388 428h4v1h-4zM385 429h3v1h-3zM381 430h4v1h-4zM378 431h3v1h-3zM374 432h4v1h-4zM371 433h3v1h-3zM367 434h4v1h-4zM364 435h3v1h-3zM362 436h2v1h-2zM360 437h2v1h-2zM358 438h2v1h-2zM356 439h2v1h-2zM355 440h1v1h-1zM354 441h1v1h-1zM352 442h2v1h-2zM351 443h1v1h-1zM350 444h1v1h-1zM349 445h1v1h-1zM347 446h2v1h-2zM346 447h1v1h-1zM345 448h1v1h-1zM344 449h1v1h-1zM342 450h2v1h-2zM341 451h1v1h-1zM340 452h1v1h-1zM338 453h2v1h-2zM336 454h2v1h-2zM334 455h2v1h-2zM332 456h2v1h-2zM329 457h3v1h-3zM327 458h2v1h-2zM325 459h2v1h-2zM323 460h2v1h-2zM321 461h2v1h-2zM319 462h2v1h-2zM317 463h2v1h-2zM316 464h1v1h-1zM314 465h2v1h-2zM313 466h1v1h-1zM312 467h1v1h-1zM310 468h2v1h-2zM309 469h1v1h-1zM307 470h2v1h-2zM305 471h2v1h-2zM303 472h2v1h-2zM301 473h2v1h-2zM297 474h4v1h-4zM294 475h3v1h-3zM290 476h4v1h-4zM287 477h3v1h-3zM283 478h4v1h-4zM280 479h3v1h-3zM278 480h2v1h-2zM276 481h2v1h-2zM271 482h5v1h-5zM264 483h7v1h-7zM259 484h5v1h-5zM257 485h2v1h-2zM254 486h3v1h-3zM252 487h2v1h-2zM250 488h2v1h-2zM247 489h3v1h-3zM245 490h2v1h-2zM243 491h2v1h-2zM241 492h2v1h-2zM238 493h3v1h-3zM236 494h2v1h-2zM234 495h2v1h-2zM230 496h4v1h-4zM143 497h8v1h-8zM225 497h5v1h-5zM136 498h7v1h-7zM151 498h16v1h-16zM221 498h4v1h-4zM132 499h4v1h-4zM167 499h4v1h-4zM216 499h5v1h-5zM125 500h7v1h-7zM171 500h4v1h-4zM210 500h6v1h-6zM92 501h4v1h-4zM115 501h10v1h-10zM175 501h10v1h-10zM206 501h4v1h-4zM96 502h19v1h-19zM185 502h4v1h-4zM202 502h4v1h-4zM189 503h13v1h-13z" fill="#000" shape-rendering="crispEdges"/>
<line x1="89" x2="883" y1="124.5" y2="124.5" stroke="#0f7dff" stroke-width="1" stroke-dasharray="3 3" shape-rendering="crispEdges"/>
<g stroke="#000" stroke-width="1" shape-rendering="crispEdges"><line x1="664" x2="671" y1="111.5" y2="111.5"/><line x1="666.5" x2="666.5" y1="109" y2="114"/></g>
<text x="671.5" y="108" font-size="12" font-weight="bold" fill="#d9453d" textLength="50.7" lengthAdjust="spacingAndGlyphs">172.4170</text>
<path d="M663 751h7v1h-7zM600 752h14v1h-14zM649 752h14v1h-14zM670 752h4v1h-4zM593 753h7v1h-7zM614 753h14v1h-14zM642 753h7v1h-7zM588 754h5v1h-5zM628 754h14v1h-14zM584 755h4v1h-4zM581 756h3v1h-3zM579 757h2v1h-2zM577 758h2v1h-2zM575 759h2v1h-2zM573 760h2v1h-2zM571 761h2v1h-2zM569 762h2v1h-2zM567 763h2v1h-2zM98 764h5v1h-5zM565 764h2v1h-2zM94 765h4v1h-4zM103 765h14v1h-14zM563 765h2v1h-2zM92 766h2v1h-2zM117 766h5v1h-5zM561 766h2v1h-2zM122 767h2v1h-2zM559 767h2v1h-2zM124 768h2v1h-2zM557 768h2v1h-2zM126 769h5v1h-5zM555 769h2v1h-2zM131 770h5v1h-5zM553 770h2v1h-2zM136 771h4v1h-4zM549 771h4v1h-4zM140 772h3v1h-3zM546 772h3v1h-3zM143 773h2v1h-2zM544 773h2v1h-2zM145 774h2v1h-2zM542 774h2v1h-2zM147 775h2v1h-2zM540 775h2v1h-2zM149 776h2v1h-2zM538 776h2v1h-2zM151 777h2v1h-2zM536 777h2v1h-2zM153 778h2v1h-2zM534 778h2v1h-2zM155 779h1v1h-1zM533 779h1v1h-1zM156 780h2v1h-2zM531 780h2v1h-2zM158 781h2v1h-2zM530 781h1v1h-1zM160 782h2v1h-2zM529 782h1v1h-1zM162 783h1v1h-1zM527 783h2v1h-2zM163 784h2v1h-2zM526 784h1v1h-1zM165 785h2v1h-2zM524 785h2v1h-2zM167 786h2v1h-2zM523 786h1v1h-1zM169 787h1v1h-1zM522 787h1v1h-1zM170 788h2v1h-2zM520 788h2v1h-2zM172 789h1v1h-1zM519 789h1v1h-1zM173 790h1v1h-1zM517 790h2v1h-2zM174 791h2v1h-2zM516 791h1v1h-1zM176 792h1v1h-1zM371 792h5v1h-5zM515 792h1v1h-1zM177 793h2v1h-2zM369 793h2v1h-2zM376 793h5v1h-5zM513 793h2v1h-2zM179 794h1v1h-1zM367 794h2v1h-2zM381 794h4v1h-4zM512 794h1v1h-1zM180 795h1v1h-1zM364 795h3v1h-3zM385 795h3v1h-3zM510 795h2v1h-2zM181 796h2v1h-2zM362 796h2v1h-2zM388 796h2v1h-2zM509 796h1v1h-1zM183 797h1v1h-1zM360 797h2v1h-2zM390 797h2v1h-2zM508 797h1v1h-1zM184 798h1v1h-1zM357 798h3v1h-3zM392 798h3v1h-3zM506 798h2v1h-2zM185 799h1v1h-1zM355 799h2v1h-2zM395 799h2v1h-2zM505 799h1v1h-1zM186 800h1v1h-1zM353 800h2v1h-2zM397 800h2v1h-2zM503 800h2v1h-2zM187 801h1v1h-1zM320 801h7v1h-7zM350 801h3v1h-3zM399 801h3v1h-3zM501 801h2v1h-2zM188 802h1v1h-1zM315 802h5v1h-5zM327 802h7v1h-7zM346 802h4v1h-4zM402 802h2v1h-2zM499 802h2v1h-2zM189 803h1v1h-1zM311 803h4v1h-4zM334 803h12v1h-12zM404 803h2v1h-2zM497 803h2v1h-2zM190 804h2v1h-2zM309 804h2v1h-2zM406 804h2v1h-2zM495 804h2v1h-2zM192 805h2v1h-2zM307 805h2v1h-2zM408 805h2v1h-2zM493 805h2v1h-2zM194 806h2v1h-2zM305 806h2v1h-2zM410 806h2v1h-2zM491 806h2v1h-2zM196 807h3v1h-3zM292 807h7v1h-7zM303 807h2v1h-2zM412 807h2v1h-2zM489 807h2v1h-2zM199 808h2v1h-2zM280 808h12v1h-12zM299 808h4v1h-4zM414 808h2v1h-2zM487 808h2v1h-2zM201 809h2v1h-2zM215 809h14v1h-14zM276 809h4v1h-4zM416 809h2v1h-2zM485 809h2v1h-2zM203 810h12v1h-12zM229 810h7v1h-7zM250 810h7v1h-7zM271 810h5v1h-5zM418 810h2v1h-2zM481 810h4v1h-4zM236 811h14v1h-14zM257 811h14v1h-14zM420 811h2v1h-2zM467 811h14v1h-14zM422 812h2v1h-2zM460 812h7v1h-7zM424 813h2v1h-2zM453 813h7v1h-7zM426 814h2v1h-2zM448 814h5v1h-5zM428 815h4v1h-4zM444 815h4v1h-4zM432 816h12v1h-12z" fill="#00009c" shape-rendering="crispEdges"/>
<path d="M582 745h2v1h-2zM92 746h1v1h-1zM568 746h2v1h-2zM580 746h2v1h-2zM584 746h4v1h-4zM593 746h7v1h-7zM93 747h1v1h-1zM567 747h1v1h-1zM570 747h2v1h-2zM578 747h2v1h-2zM588 747h5v1h-5zM600 747h4v1h-4zM645 747h4v1h-4zM93 748h1v1h-1zM566 748h1v1h-1zM572 748h2v1h-2zM576 748h2v1h-2zM604 748h2v1h-2zM644 748h1v1h-1zM649 748h4v1h-4zM94 749h1v1h-1zM566 749h1v1h-1zM574 749h2v1h-2zM606 749h1v1h-1zM643 749h1v1h-1zM653 749h2v1h-2zM94 750h1v1h-1zM565 750h1v1h-1zM607 750h1v1h-1zM642 750h1v1h-1zM655 750h1v1h-1zM665 750h3v1h-3zM95 751h1v1h-1zM564 751h1v1h-1zM608 751h2v1h-2zM641 751h1v1h-1zM656 751h1v1h-1zM663 751h2v1h-2zM668 751h4v1h-4zM96 752h1v1h-1zM563 752h1v1h-1zM610 752h1v1h-1zM640 752h1v1h-1zM657 752h2v1h-2zM661 752h2v1h-2zM672 752h2v1h-2zM96 753h1v1h-1zM563 753h1v1h-1zM611 753h2v1h-2zM639 753h1v1h-1zM659 753h2v1h-2zM97 754h1v1h-1zM562 754h1v1h-1zM613 754h2v1h-2zM623 754h3v1h-3zM637 754h2v1h-2zM97 755h1v1h-1zM561 755h1v1h-1zM615 755h2v1h-2zM619 755h4v1h-4zM626 755h2v1h-2zM635 755h2v1h-2zM98 756h1v1h-1zM560 756h1v1h-1zM617 756h2v1h-2zM628 756h2v1h-2zM633 756h2v1h-2zM98 757h1v1h-1zM533 757h2v1h-2zM559 757h1v1h-1zM630 757h3v1h-3zM99 758h1v1h-1zM532 758h1v1h-1zM535 758h4v1h-4zM558 758h1v1h-1zM100 759h1v1h-1zM531 759h1v1h-1zM539 759h2v1h-2zM558 759h1v1h-1zM101 760h1v1h-1zM530 760h1v1h-1zM541 760h2v1h-2zM557 760h1v1h-1zM101 761h1v1h-1zM530 761h1v1h-1zM543 761h2v1h-2zM556 761h1v1h-1zM102 762h1v1h-1zM529 762h1v1h-1zM545 762h2v1h-2zM555 762h1v1h-1zM103 763h1v1h-1zM528 763h1v1h-1zM547 763h8v1h-8zM104 764h1v1h-1zM527 764h1v1h-1zM104 765h1v1h-1zM112 765h2v1h-2zM525 765h2v1h-2zM105 766h1v1h-1zM108 766h4v1h-4zM114 766h1v1h-1zM523 766h2v1h-2zM106 767h2v1h-2zM115 767h1v1h-1zM521 767h2v1h-2zM116 768h1v1h-1zM519 768h2v1h-2zM117 769h1v1h-1zM517 769h2v1h-2zM118 770h1v1h-1zM515 770h2v1h-2zM119 771h1v1h-1zM513 771h2v1h-2zM120 772h1v1h-1zM512 772h1v1h-1zM121 773h1v1h-1zM511 773h1v1h-1zM122 774h1v1h-1zM134 774h1v1h-1zM510 774h1v1h-1zM123 775h2v1h-2zM132 775h2v1h-2zM135 775h2v1h-2zM510 775h1v1h-1zM125 776h1v1h-1zM130 776h2v1h-2zM137 776h2v1h-2zM509 776h1v1h-1zM126 777h1v1h-1zM128 777h2v1h-2zM139 777h2v1h-2zM508 777h1v1h-1zM127 778h1v1h-1zM141 778h1v1h-1zM507 778h1v1h-1zM142 779h1v1h-1zM365 779h1v1h-1zM507 779h1v1h-1zM143 780h1v1h-1zM364 780h1v1h-1zM366 780h2v1h-2zM506 780h1v1h-1zM144 781h1v1h-1zM363 781h1v1h-1zM368 781h2v1h-2zM505 781h1v1h-1zM145 782h1v1h-1zM362 782h1v1h-1zM370 782h2v1h-2zM504 782h1v1h-1zM146 783h1v1h-1zM362 783h1v1h-1zM372 783h1v1h-1zM503 783h1v1h-1zM147 784h1v1h-1zM361 784h1v1h-1zM373 784h1v1h-1zM502 784h1v1h-1zM148 785h1v1h-1zM360 785h1v1h-1zM373 785h1v1h-1zM501 785h1v1h-1zM149 786h1v1h-1zM359 786h1v1h-1zM374 786h1v1h-1zM500 786h1v1h-1zM149 787h1v1h-1zM358 787h1v1h-1zM374 787h1v1h-1zM499 787h1v1h-1zM150 788h1v1h-1zM357 788h1v1h-1zM375 788h1v1h-1zM498 788h1v1h-1zM151 789h1v1h-1zM357 789h1v1h-1zM376 789h1v1h-1zM496 789h2v1h-2zM152 790h1v1h-1zM316 790h1v1h-1zM356 790h1v1h-1zM376 790h1v1h-1zM494 790h2v1h-2zM152 791h1v1h-1zM314 791h2v1h-2zM317 791h1v1h-1zM355 791h1v1h-1zM377 791h1v1h-1zM492 791h2v1h-2zM153 792h1v1h-1zM313 792h1v1h-1zM318 792h1v1h-1zM355 792h1v1h-1zM377 792h1v1h-1zM491 792h1v1h-1zM154 793h1v1h-1zM312 793h1v1h-1zM319 793h2v1h-2zM354 793h1v1h-1zM378 793h1v1h-1zM490 793h1v1h-1zM154 794h1v1h-1zM310 794h2v1h-2zM321 794h1v1h-1zM353 794h1v1h-1zM378 794h1v1h-1zM490 794h1v1h-1zM155 795h2v1h-2zM309 795h1v1h-1zM322 795h1v1h-1zM352 795h1v1h-1zM379 795h1v1h-1zM489 795h1v1h-1zM157 796h2v1h-2zM309 796h1v1h-1zM323 796h1v1h-1zM352 796h1v1h-1zM380 796h1v1h-1zM489 796h1v1h-1zM159 797h2v1h-2zM308 797h1v1h-1zM324 797h1v1h-1zM350 797h2v1h-2zM380 797h1v1h-1zM488 797h1v1h-1zM161 798h2v1h-2zM308 798h1v1h-1zM324 798h1v1h-1zM348 798h2v1h-2zM381 798h1v1h-1zM488 798h1v1h-1zM163 799h1v1h-1zM281 799h1v1h-1zM307 799h1v1h-1zM325 799h1v1h-1zM346 799h2v1h-2zM382 799h1v1h-1zM487 799h1v1h-1zM164 800h1v1h-1zM280 800h1v1h-1zM282 800h2v1h-2zM307 800h1v1h-1zM326 800h1v1h-1zM344 800h2v1h-2zM382 800h1v1h-1zM487 800h1v1h-1zM165 801h1v1h-1zM279 801h1v1h-1zM284 801h2v1h-2zM306 801h1v1h-1zM327 801h1v1h-1zM343 801h1v1h-1zM383 801h1v1h-1zM486 801h1v1h-1zM166 802h1v1h-1zM279 802h1v1h-1zM286 802h2v1h-2zM306 802h1v1h-1zM327 802h1v1h-1zM342 802h1v1h-1zM383 802h1v1h-1zM486 802h1v1h-1zM166 803h1v1h-1zM278 803h1v1h-1zM288 803h2v1h-2zM306 803h1v1h-1zM328 803h1v1h-1zM341 803h1v1h-1zM384 803h1v1h-1zM485 803h1v1h-1zM167 804h1v1h-1zM277 804h1v1h-1zM290 804h2v1h-2zM305 804h1v1h-1zM329 804h1v1h-1zM341 804h1v1h-1zM385 804h1v1h-1zM485 804h1v1h-1zM168 805h1v1h-1zM217 805h2v1h-2zM276 805h1v1h-1zM292 805h2v1h-2zM305 805h1v1h-1zM329 805h1v1h-1zM340 805h1v1h-1zM385 805h1v1h-1zM484 805h1v1h-1zM169 806h1v1h-1zM213 806h4v1h-4zM219 806h2v1h-2zM276 806h1v1h-1zM294 806h2v1h-2zM304 806h1v1h-1zM330 806h2v1h-2zM339 806h1v1h-1zM386 806h1v1h-1zM483 806h1v1h-1zM170 807h1v1h-1zM211 807h2v1h-2zM221 807h2v1h-2zM275 807h1v1h-1zM296 807h2v1h-2zM304 807h1v1h-1zM332 807h4v1h-4zM338 807h1v1h-1zM387 807h2v1h-2zM469 807h2v1h-2zM482 807h1v1h-1zM171 808h1v1h-1zM210 808h1v1h-1zM223 808h2v1h-2zM273 808h2v1h-2zM298 808h1v1h-1zM303 808h1v1h-1zM336 808h2v1h-2zM389 808h1v1h-1zM453 808h7v1h-7zM465 808h4v1h-4zM471 808h2v1h-2zM480 808h2v1h-2zM171 809h1v1h-1zM210 809h1v1h-1zM225 809h2v1h-2zM271 809h2v1h-2zM299 809h1v1h-1zM303 809h1v1h-1zM390 809h1v1h-1zM449 809h4v1h-4zM460 809h5v1h-5zM473 809h2v1h-2zM479 809h1v1h-1zM172 810h1v1h-1zM209 810h1v1h-1zM227 810h4v1h-4zM252 810h3v1h-3zM269 810h2v1h-2zM300 810h3v1h-3zM391 810h2v1h-2zM447 810h2v1h-2zM475 810h2v1h-2zM478 810h1v1h-1zM173 811h1v1h-1zM209 811h1v1h-1zM231 811h3v1h-3zM248 811h4v1h-4zM255 811h2v1h-2zM266 811h3v1h-3zM302 811h1v1h-1zM393 811h1v1h-1zM446 811h1v1h-1zM477 811h1v1h-1zM174 812h1v1h-1zM208 812h1v1h-1zM234 812h4v1h-4zM243 812h5v1h-5zM257 812h2v1h-2zM262 812h4v1h-4zM394 812h2v1h-2zM445 812h1v1h-1zM174 813h1v1h-1zM208 813h1v1h-1zM238 813h5v1h-5zM259 813h3v1h-3zM396 813h2v1h-2zM443 813h2v1h-2zM175 814h1v1h-1zM207 814h1v1h-1zM398 814h2v1h-2zM442 814h1v1h-1zM176 815h2v1h-2zM207 815h1v1h-1zM400 815h2v1h-2zM441 815h1v1h-1zM178 816h4v1h-4zM206 816h1v1h-1zM402 816h4v1h-4zM440 816h1v1h-1zM182 817h2v1h-2zM206 817h1v1h-1zM406 817h2v1h-2zM438 817h2v1h-2zM184 818h1v1h-1zM205 818h1v1h-1zM408 818h2v1h-2zM437 818h1v1h-1zM184 819h1v1h-1zM205 819h1v1h-1zM410 819h1v1h-1zM436 819h1v1h-1zM185 820h1v1h-1zM204 820h1v1h-1zM411 820h1v1h-1zM435 820h1v1h-1zM186 821h1v1h-1zM202 821h2v1h-2zM412 821h2v1h-2zM434 821h1v1h-1zM186 822h1v1h-1zM200 822h2v1h-2zM414 822h1v1h-1zM433 822h1v1h-1zM187 823h1v1h-1zM198 823h2v1h-2zM415 823h1v1h-1zM432 823h1v1h-1zM187 824h1v1h-1zM197 824h1v1h-1zM416 824h1v1h-1zM432 824h1v1h-1zM188 825h1v1h-1zM195 825h2v1h-2zM417 825h1v1h-1zM431 825h1v1h-1zM189 826h1v1h-1zM193 826h2v1h-2zM418 826h1v1h-1zM430 826h1v1h-1zM189 827h1v1h-1zM191 827h2v1h-2zM419 827h1v1h-1zM429 827h1v1h-1zM190 828h1v1h-1zM420 828h1v1h-1zM425 828h4v1h-4zM421 829h4v1h-4z" fill="#000" shape-rendering="crispEdges"/>
<g shape-rendering="crispEdges" stroke-width="1">
<line x1="92.5" x2="92.5" y1="776" y2="818" stroke="#d7473f"/>
<line x1="99.5" x2="99.5" y1="804" y2="818" stroke="#d7473f"/>
<line x1="106.5" x2="106.5" y1="817" y2="823" stroke="#62a75f"/>
<line x1="113.5" x2="113.5" y1="817" y2="819" stroke="#62a75f"/>
<line x1="120.5" x2="120.5" y1="817" y2="831" stroke="#62a75f"/>
<line x1="127.5" x2="127.5" y1="817" y2="837" stroke="#62a75f"/>
<line x1="134.5" x2="134.5" y1="817" y2="826" stroke="#62a75f"/>
<line x1="141.5" x2="141.5" y1="817" y2="831" stroke="#62a75f"/>
<line x1="148.5" x2="148.5" y1="817" y2="837" stroke="#62a75f"/>
<line x1="155.5" x2="155.5" y1="817" y2="850" stroke="#62a75f"/>
<line x1="162.5" x2="162.5" y1="817" y2="850" stroke="#62a75f"/>
<line x1="169.5" x2="169.5" y1="817" y2="855" stroke="#62a75f"/>
<line x1="176.5" x2="176.5" y1="817" y2="862" stroke="#62a75f"/>
<line x1="183.5" x2="183.5" y1="817" y2="859" stroke="#62a75f"/>
<line x1="190.5" x2="190.5" y1="817" y2="867" stroke="#62a75f"/>
<line x1="197.5" x2="197.5" y1="817" y2="850" stroke="#62a75f"/>
<line x1="204.5" x2="204.5" y1="817" y2="837" stroke="#62a75f"/>
<line x1="211.5" x2="211.5" y1="813" y2="818" stroke="#d7473f"/>
<line x1="218.5" x2="218.5" y1="810" y2="818" stroke="#d7473f"/>
<line x1="225.5" x2="225.5" y1="817" y2="820" stroke="#62a75f"/>
<line x1="232.5" x2="232.5" y1="817" y2="824" stroke="#62a75f"/>
<line x1="239.5" x2="239.5" y1="817" y2="823" stroke="#62a75f"/>
<line x1="246.5" x2="246.5" y1="817" y2="822" stroke="#62a75f"/>
<line x1="253.5" x2="253.5" y1="817" y2="818" stroke="#d7473f"/>
<line x1="260.5" x2="260.5" y1="817" y2="822" stroke="#62a75f"/>
<line x1="267.5" x2="267.5" y1="817" y2="818" stroke="#d7473f"/>
<line x1="274.5" x2="274.5" y1="812" y2="818" stroke="#d7473f"/>
<line x1="281.5" x2="281.5" y1="799" y2="818" stroke="#d7473f"/>
<line x1="288.5" x2="288.5" y1="809" y2="818" stroke="#d7473f"/>
<line x1="295.5" x2="295.5" y1="817" y2="818" stroke="#d7473f"/>
<line x1="302.5" x2="302.5" y1="817" y2="823" stroke="#62a75f"/>
<line x1="309.5" x2="309.5" y1="800" y2="818" stroke="#d7473f"/>
<line x1="316.5" x2="316.5" y1="793" y2="818" stroke="#d7473f"/>
<line x1="323.5" x2="323.5" y1="807" y2="818" stroke="#d7473f"/>
<line x1="330.5" x2="330.5" y1="817" y2="826" stroke="#62a75f"/>
<line x1="337.5" x2="337.5" y1="817" y2="827" stroke="#62a75f"/>
<line x1="344.5" x2="344.5" y1="812" y2="818" stroke="#d7473f"/>
<line x1="351.5" x2="351.5" y1="808" y2="818" stroke="#d7473f"/>
<line x1="358.5" x2="358.5" y1="795" y2="818" stroke="#d7473f"/>
<line x1="365.5" x2="365.5" y1="786" y2="818" stroke="#d7473f"/>
<line x1="372.5" x2="372.5" y1="798" y2="818" stroke="#d7473f"/>
<line x1="379.5" x2="379.5" y1="817" y2="820" stroke="#62a75f"/>
<line x1="386.5" x2="386.5" y1="817" y2="838" stroke="#62a75f"/>
<line x1="393.5" x2="393.5" y1="817" y2="843" stroke="#62a75f"/>
<line x1="400.5" x2="400.5" y1="817" y2="842" stroke="#62a75f"/>
<line x1="407.5" x2="407.5" y1="817" y2="843" stroke="#62a75f"/>
<line x1="414.5" x2="414.5" y1="817" y2="845" stroke="#62a75f"/>
<line x1="421.5" x2="421.5" y1="817" y2="851" stroke="#62a75f"/>
<line x1="428.5" x2="428.5" y1="817" y2="843" stroke="#62a75f"/>
<line x1="435.5" x2="435.5" y1="817" y2="826" stroke="#62a75f"/>
<line x1="442.5" x2="442.5" y1="814" y2="818" stroke="#d7473f"/>
<line x1="449.5" x2="449.5" y1="805" y2="818" stroke="#d7473f"/>
<line x1="456.5" x2="456.5" y1="806" y2="818" stroke="#d7473f"/>
<line x1="463.5" x2="463.5" y1="811" y2="818" stroke="#d7473f"/>
<line x1="470.5" x2="470.5" y1="808" y2="818" stroke="#d7473f"/>
<line x1="477.5" x2="477.5" y1="817" y2="819" stroke="#62a75f"/>
<line x1="484.5" x2="484.5" y1="806" y2="818" stroke="#d7473f"/>
<line x1="491.5" x2="491.5" y1="792" y2="818" stroke="#d7473f"/>
<line x1="498.5" x2="498.5" y1="786" y2="818" stroke="#d7473f"/>
<line x1="505.5" x2="505.5" y1="782" y2="818" stroke="#d7473f"/>
<line x1="512.5" x2="512.5" y1="777" y2="818" stroke="#d7473f"/>
<line x1="519.5" x2="519.5" y1="777" y2="818" stroke="#d7473f"/>
<line x1="526.5" x2="526.5" y1="779" y2="818" stroke="#d7473f"/>
<line x1="533.5" x2="533.5" y1="775" y2="818" stroke="#d7473f"/>
<line x1="540.5" x2="540.5" y1="786" y2="818" stroke="#d7473f"/>
<line x1="547.5" x2="547.5" y1="798" y2="818" stroke="#d7473f"/>
<line x1="554.5" x2="554.5" y1="802" y2="818" stroke="#d7473f"/>
<line x1="561.5" x2="561.5" y1="793" y2="818" stroke="#d7473f"/>
<line x1="568.5" x2="568.5" y1="783" y2="818" stroke="#d7473f"/>
<line x1="575.5" x2="575.5" y1="795" y2="818" stroke="#d7473f"/>
<line x1="582.5" x2="582.5" y1="792" y2="818" stroke="#d7473f"/>
<line x1="589.5" x2="589.5" y1="801" y2="818" stroke="#d7473f"/>
<line x1="596.5" x2="596.5" y1="803" y2="818" stroke="#d7473f"/>
<line x1="603.5" x2="603.5" y1="806" y2="818" stroke="#d7473f"/>
<line x1="610.5" x2="610.5" y1="817" y2="819" stroke="#62a75f"/>
<line x1="617.5" x2="617.5" y1="817" y2="825" stroke="#62a75f"/>
<line x1="624.5" x2="624.5" y1="817" y2="820" stroke="#62a75f"/>
<line x1="631.5" x2="631.5" y1="817" y2="823" stroke="#62a75f"/>
<line x1="638.5" x2="638.5" y1="817" y2="818" stroke="#d7473f"/>
<line x1="645.5" x2="645.5" y1="806" y2="818" stroke="#d7473f"/>
<line x1="652.5" x2="652.5" y1="810" y2="818" stroke="#d7473f"/>
<line x1="659.5" x2="659.5" y1="817" y2="821" stroke="#62a75f"/>
<line x1="666.5" x2="666.5" y1="813" y2="818" stroke="#d7473f"/>
<line x1="673.5" x2="673.5" y1="817" y2="819" stroke="#62a75f"/>
</g>
<g font-size="12" fill="#2f3556" text-anchor="end">
<text x="84.2" y="47.8" textLength="50.4" lengthAdjust="spacingAndGlyphs">174.5325</text>
<text x="84.2" y="102.8" textLength="50.4" lengthAdjust="spacingAndGlyphs">172.7719</text>
<text x="84.2" y="157.8" textLength="50.4" lengthAdjust="spacingAndGlyphs">171.0114</text>
<text x="84.2" y="212.8" textLength="50.4" lengthAdjust="spacingAndGlyphs">169.2508</text>
<text x="84.2" y="267.8" textLength="50.4" lengthAdjust="spacingAndGlyphs">167.4902</text>
<text x="84.2" y="322.8" textLength="50.4" lengthAdjust="spacingAndGlyphs">165.7297</text>
<text x="84.2" y="377.8" textLength="50.4" lengthAdjust="spacingAndGlyphs">163.9691</text>
<text x="84.2" y="432.8" textLength="50.4" lengthAdjust="spacingAndGlyphs">162.2086</text>
<text x="84.2" y="487.8" textLength="50.4" lengthAdjust="spacingAndGlyphs">160.4480</text>
<text x="84.2" y="542.8" textLength="50.4" lengthAdjust="spacingAndGlyphs">158.6875</text>
<text x="84.2" y="597.8" textLength="50.4" lengthAdjust="spacingAndGlyphs">156.9269</text>
<text x="84.2" y="652.8" textLength="50.4" lengthAdjust="spacingAndGlyphs">155.1663</text>
<text x="84.5" y="730">0.9207</text>
<text x="84.5" y="754">0.6688</text>
<text x="84.5" y="779">0.4169</text>
<text x="84.5" y="804">0.1650</text>
<text x="84.5" y="829">-0.0869</text>
<text x="84.5" y="853">-0.3388</text>
<text x="84.5" y="878">-0.5907</text>
<text x="84.5" y="903">-0.8426</text>
</g>
<g font-size="12" font-weight="bold" fill="#222">
<text x="157" y="937" textLength="44.6" lengthAdjust="spacingAndGlyphs">2025/04</text>
<text x="311" y="937" textLength="44.6" lengthAdjust="spacingAndGlyphs">2025/05</text>
<text x="465" y="937" textLength="44.6" lengthAdjust="spacingAndGlyphs">2025/06</text>
<text x="612" y="937" textLength="44.6" lengthAdjust="spacingAndGlyphs">2025/07</text>
</g>
<g font-size="12">
<text x="90.3" y="37.1" fill="#000">欧元日元</text>
<text x="137.2" y="37.4" fill="#ff7a1a">【日线】</text>
<g stroke="#ff8420" fill="none" stroke-width="0.9"><circle cx="191" cy="34" r="4"/><line x1="187" x2="195" y1="34" y2="34"/><line x1="191" x2="191" y1="30" y2="38"/></g>
<g><rect x="203.6" y="24.6" width="11.3" height="12" fill="#fff" stroke="#14148c" stroke-width="1.3"/><polyline points="204.6,31 207.6,27.5 210,30 213.6,27" fill="none" stroke="#e0201a" stroke-width="1.3"/><polyline points="204.6,34.5 207.6,31 210,33.5 213.6,30.5" fill="none" stroke="#1a3ad0" stroke-width="1.3"/></g>
<text x="219" y="36.7" fill="#111" font-size="13" textLength="91.5" lengthAdjust="spacingAndGlyphs">MA1(50,0,200,0)</text>
<text x="316.2" y="36.7" fill="#111" font-size="13" textLength="87.2" lengthAdjust="spacingAndGlyphs">MA50:166.1675</text>
<text x="412.9" y="36.7" fill="#0a0aa0" font-size="13" textLength="80.5" lengthAdjust="spacingAndGlyphs">MA0:171.9940</text>
<text x="503" y="36.7" fill="#ff1aff" font-size="13" textLength="94.0" lengthAdjust="spacingAndGlyphs">MA200:162.7357</text>
<text x="606.6" y="36.7" fill="#ff8414" font-size="13" textLength="80.5" lengthAdjust="spacingAndGlyphs">MA0:171.9940</text>
<text x="90.5" y="719.4" fill="#111" font-size="13" textLength="78.5" lengthAdjust="spacingAndGlyphs">MACD(13,8,9)</text>
<text x="173.8" y="719.4" fill="#111" font-size="13" textLength="65.4" lengthAdjust="spacingAndGlyphs">DIFF:0.6654</text>
<text x="247.4" y="719.4" fill="#0a0aa0" font-size="13" textLength="64.6" lengthAdjust="spacingAndGlyphs">DEA:0.6662</text>
<text x="320.7" y="719.4" fill="#ff1aff" font-size="13" textLength="82.2" lengthAdjust="spacingAndGlyphs">MACD:-0.0017</text>
</g>
<g><circle cx="26.5" cy="711.5" r="3.7" fill="none" stroke="#000" stroke-width="1"/><circle cx="26.5" cy="711.5" r="1.7" fill="#f00"/>
<line x1="31.8" y1="711.5" x2="33.8" y2="711.5" stroke="#f00" stroke-width="1"/>
<line x1="30.2" y1="715.2" x2="31.7" y2="716.7" stroke="#f00" stroke-width="1"/>
<line x1="26.5" y1="716.8" x2="26.5" y2="718.8" stroke="#f00" stroke-width="1"/>
<line x1="22.8" y1="715.2" x2="21.3" y2="716.7" stroke="#f00" stroke-width="1"/>
<line x1="21.2" y1="711.5" x2="19.2" y2="711.5" stroke="#f00" stroke-width="1"/>
<line x1="22.8" y1="707.8" x2="21.3" y2="706.3" stroke="#f00" stroke-width="1"/>
<line x1="26.5" y1="706.2" x2="26.5" y2="704.2" stroke="#f00" stroke-width="1"/>
<line x1="30.2" y1="707.8" x2="31.7" y2="706.3" stroke="#f00" stroke-width="1"/>
</g>
<g font-size="30" font-weight="normal" letter-spacing="2.3"><text x="755.7" y="921.8" fill="#b9a596">FX678</text><text x="754.7" y="920.8" fill="#dde8f8">FX678</text></g>
</svg>
<div id="tb">
<i class="sep" style="left:68px"></i>
<i class="sep" style="left:139px"></i>
<i class="sep" style="left:207px"></i>
<i class="sep" style="left:254px"></i>
<i class="sep" style="left:300px"></i>
<i class="sep" style="left:347px"></i>
<i class="sep" style="left:394px"></i>
<i class="sep" style="left:422px"></i>
<i class="sep" style="left:450px"></i>
<i class="sep" style="left:478px"></i>
<i class="sep" style="left:506px"></i>
<i class="sep" style="left:534px"></i>
<i class="sep" style="left:562px"></i>
<i class="sep" style="left:590px"></i>
<i class="sep" style="left:618px"></i>
<i class="sep" style="left:646px"></i>
<i class="sep" style="left:674px"></i>
<i class="sep" style="left:745px"></i>
<i class="sep" style="left:774px"></i>
<i class="sep" style="left:820px"></i>
<i class="sep" style="left:867px"></i>
<svg class="ic" style="left:12.3px;top:3.7px" width="15" height="12" viewBox="0 0 15 12"><path d="M6 0 L0 4.6 L6 9.2 L6 6.3 C9.5 6.2 11.8 7.6 12.6 11.2 C14.6 6.3 11.5 2.9 6 2.9 Z" fill="#39414d"/></svg>
<span class="lb" style="left:28.6px;font-size:12.4px;letter-spacing:0.4px">返回</span>
<svg class="ic" style="left:83px;top:3px" width="13" height="13" viewBox="0 0 13 13"><path d="M6.5 0 L0 6.2 L1.8 6.2 L1.8 12.6 L5 12.6 L5 8.4 L8 8.4 L8 12.6 L11.2 12.6 L11.2 6.2 L13 6.2 Z" fill="#39414d"/></svg>
<span class="lb" style="left:100.2px;font-size:12.4px;letter-spacing:0.4px">首页</span>
<svg class="ic" style="left:164px;top:1px" width="20" height="17" viewBox="0 0 20 17"><path d="M14.08 12.67 A6.3 6.3 0 1 1 15.64 7.57" fill="none" stroke="#39414d" stroke-width="1.5"/><path d="M13.9 7.4 L19.1 7.4 L16.5 11.8 Z" fill="#39414d"/></svg>
<svg class="ic" style="left:220px;top:1px" width="20" height="17" viewBox="0 0 20 17"><g fill="#39414d"><rect x="1.2" y="10.8" width="2.7" height="5.2"/><rect x="6" y="8" width="2.7" height="8"/><rect x="11.2" y="10" width="2.7" height="6"/><rect x="16.3" y="5" width="2.7" height="11"/></g><polyline points="1,9.8 7.8,3.6 12.2,7.4 19.2,1.2" fill="none" stroke="#39414d" stroke-width="1.5"/></svg>
<svg class="ic" style="left:266px;top:2px" width="22" height="16" viewBox="0 0 22 16"><g fill="#39414d"><rect x="1.4" y="4.4" width="2.8" height="5" rx="0.6"/><rect x="2.4" y="3.4" width="0.9" height="7.6"/><rect x="7" y="2.4" width="2.8" height="6.4" rx="0.6"/><rect x="7.9" y="0.4" width="1" height="14.6"/><rect x="12.3" y="6.4" width="2.8" height="4.6" rx="0.6"/><rect x="13.2" y="3.4" width="1" height="10.4"/><rect x="18" y="5" width="2.8" height="5.6" rx="0.6"/><rect x="18.9" y="2.4" width="1" height="11.4"/></g></svg>
<span class="bt" style="left:301px;width:47px;font-size:16px;letter-spacing:0.35px;text-indent:0.5px">tick</span>
<span class="bt" style="left:348px;width:46px;font-size:13px;">5<span style="font-size:12.4px;margin-left:1px;position:relative;top:0.8px">日</span></span>
<span class="bt" style="left:394px;width:28px;font-size:13px;">5</span>
<span class="bt" style="left:422px;width:28px;font-size:13px;">15</span>
<span class="bt" style="left:450px;width:28px;font-size:13px;">30</span>
<span class="bt" style="left:478px;width:28px;font-size:13px;">60</span>
<span class="bt" style="left:506px;width:28px;font-size:13px;">2H</span>
<span class="bt" style="left:534px;width:29px;font-size:13px;">4H</span>
<span class="bt" style="left:563px;width:28px;font-size:12.4px;line-height:21.5px">日</span>
<span class="bt" style="left:591px;width:28px;font-size:12.4px;line-height:21.5px">周</span>
<span class="bt" style="left:619px;width:28px;font-size:12.4px;line-height:21.5px">月</span>
<span class="bt" style="left:647px;width:28px;font-size:12.4px;line-height:21.5px">年</span>
<svg class="ic" style="left:689px;top:3px" width="14" height="13" viewBox="0 0 14 13"><g fill="#39414d"><rect x="0" y="0.6" width="14" height="2.3" rx="1.1"/><rect x="0" y="5.6" width="14" height="2.3" rx="1.1"/><rect x="0" y="10.6" width="14" height="2.3" rx="1.1"/></g></svg>
<span class="lb" style="left:706.6px;font-size:12.4px;letter-spacing:0.4px">更多</span>
<span class="lb" style="left:753.3px;top:-2px;font-size:16.5px;font-style:italic;font-weight:normal;-webkit-text-stroke:0.35px #39414d;font-family:DejaVu Sans,Liberation Sans,sans-serif">ƒ</span>
<svg class="ic" style="left:758.7px;top:8px" width="9" height="8" viewBox="0 0 9 8"><path d="M1 1 L7.6 6.8 M7.6 1 L1 6.8" stroke="#39414d" stroke-width="1.8" fill="none"/></svg>
<svg class="ic" style="left:789.8px;top:1.3px" width="17" height="17" viewBox="0 0 17 17"><g fill="none" stroke="#39414d" stroke-width="1.3"><circle cx="7.5" cy="7.5" r="6.5"/><line x1="4.5" x2="10.5" y1="7.5" y2="7.5"/><line x1="12.2" y1="12.2" x2="15.6" y2="15.6"/></g></svg>
<svg class="ic" style="left:836.8px;top:1.3px" width="17" height="17" viewBox="0 0 17 17"><g fill="none" stroke="#39414d" stroke-width="1.3"><circle cx="7.5" cy="7.5" r="6.5"/><line x1="4.5" x2="10.5" y1="7.5" y2="7.5"/><line x1="7.5" x2="7.5" y1="4.5" y2="10.5"/><line x1="12.2" y1="12.2" x2="15.6" y2="15.6"/></g></svg>
</div>
<div id="side">
<div class="tab" style="top:23px;height:51px">分<br>时<br>图</div>
<div class="tab on" style="top:74px;height:46px"><span style="font-size:10.5px;line-height:0">K</span><br>线<br>图</div>
<div class="tab" style="top:120px;height:53px;padding-top:7px">闪<br>电<br>图</div>
<div class="tab" style="top:173px;height:63px;padding-top:5px">合<br>约<br>资<br>料</div>
</div>
<div id="b0"></div><i class="bs" style="left:57px"></i><i class="bs" style="left:97px"></i><i class="bs" style="left:155px"></i><i class="bs" style="left:183px"></i><i class="bs" style="left:223px"></i><i class="bs" style="left:263px"></i><i class="bs" style="left:297px"></i><i class="bs" style="left:337px"></i><i class="bs" style="left:371px"></i><i class="bs" style="left:405px"></i><i class="bs" style="left:446px"></i><i class="bs" style="left:480px"></i><i class="bs" style="left:507px"></i><i class="bs" style="left:542px"></i><i class="bs" style="left:582px"></i><i class="bt2" style="left:65px;width:24px"></i><i class="bt2" style="left:112px;width:24px"></i><i class="bt2" style="left:546px;width:26px"></i>
<div id="dl">日线<svg width="10" height="9" viewBox="0 0 10 9" style="position:absolute;left:44.5px;top:6px"><path d="M4.6 0 L9.2 8.4 L0 8.4 Z" fill="#ff6a00"/></svg></div>
<div id="b1"></div>
</body></html>
